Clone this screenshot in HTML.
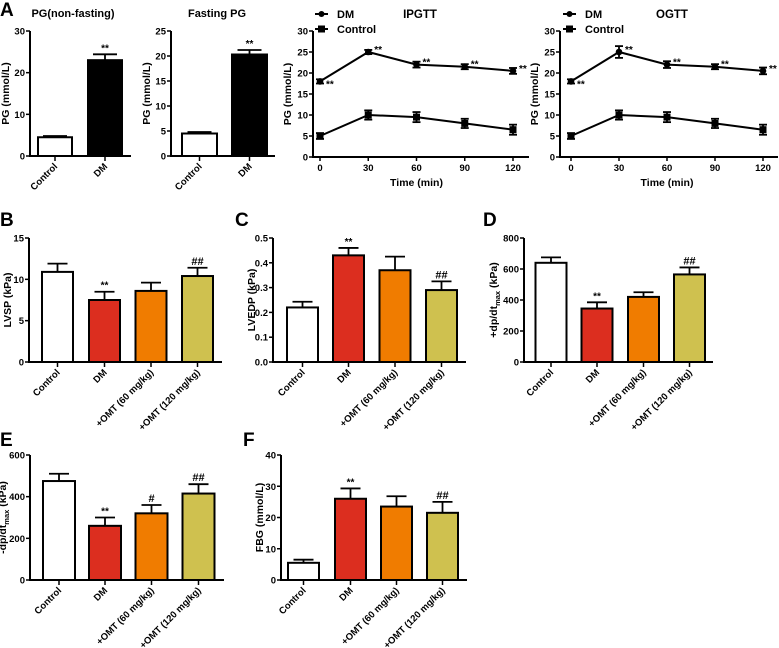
<!DOCTYPE html>
<html><head><meta charset="utf-8">
<style>
html,body{margin:0;padding:0;background:#fff;}
svg{display:block;font-family:"Liberation Sans",Arial,sans-serif;font-weight:bold;}
</style></head>
<body>
<svg id="fig" width="779" height="648" viewBox="0 0 779 648" xmlns="http://www.w3.org/2000/svg">
<g id="g"></g>
</svg>
<script>
// ---- data ----
const groups2 = ["Control","DM"];
const groups4 = ["Control","DM","+OMT (60 mg/kg)","+OMT (120 mg/kg)"];
const pgNonFast = [4.5, 23];
const pgNonFastErr = [0.3, 1.4];
const pgFast = [4.5, 20.3];
const pgFastErr = [0.3, 0.9];
const timePoints = [0, 30, 60, 90, 120];
const ipgttDM = [18, 25, 22, 21.5, 20.5];
const ipgttDMErr = [0.5, 0.5, 0.7, 0.6, 0.7];
const ipgttCtl = [5, 10, 9.5, 8, 6.5];
const ipgttCtlErr = [0.7, 1.1, 1.2, 1.1, 1.2];
const ogttDM = [18, 25, 22, 21.5, 20.5];
const ogttDMErr = [0.5, 1.4, 0.8, 0.6, 0.8];
const ogttCtl = [5, 10, 9.5, 8, 6.5];
const ogttCtlErr = [0.7, 1.1, 1.2, 1.1, 1.2];
const lvsp = [10.9, 7.5, 8.6, 10.4];
const lvspErr = [1.0, 1.0, 1.0, 1.0];
const lvedp = [0.22, 0.43, 0.37, 0.29];
const lvedpErr = [0.023, 0.03, 0.055, 0.035];
const dpPlus = [640, 345, 420, 565];
const dpPlusErr = [35, 40, 30, 45];
const dpMinus = [475, 260, 320, 415];
const dpMinusErr = [35, 40, 40, 45];
const fbg = [5.5, 26, 23.5, 21.5];
const fbgErr = [1.0, 3.3, 3.3, 3.5];
const sig4B = ["", "**", "", "##"];
const sig4E = ["", "**", "#", "##"];
const sig2 = ["", "**"];
const ticksPG30 = [0, 10, 20, 30];
const ticksPG25 = [0, 5, 10, 15, 20, 25];
const ticksGTT = [0, 5, 10, 15, 20, 25, 30];
const ticksLVSP = [0, 5, 10, 15];
const ticksLVEDP = [0, 0.1, 0.2, 0.3, 0.4, 0.5];
const ticksDP = [0, 200, 400, 600, 800];
const ticksDM = [0, 200, 400, 600];
const ticksFBG = [0, 10, 20, 30, 40];
const tickLabLVEDP = ["0.0","0.1","0.2","0.3","0.4","0.5"];
const colors4 = ["#ffffff", "#dc2e1f", "#f07c00", "#cfc14f"];
const colors2 = ["#ffffff", "#000000"];

const NS = "http://www.w3.org/2000/svg";
const root = document.getElementById("g");
function el(tag, attrs, parent, text){
  const e = document.createElementNS(NS, tag);
  for (const k in attrs) e.setAttribute(k, attrs[k]);
  if (text !== undefined) e.textContent = text;
  (parent||root).appendChild(e);
  return e;
}
function panelLabel(t, x, y){
  const e = el("text", {x:x, y:y, "font-size":19}, root, t);
  
  
}
function yAxis(p, ticks, labels){
  const ax = el("g", {}, p.g);
  
  
  el("line", {x1:p.ax, y1:p.y(ticks[0])+1, x2:p.ax, y2:p.y(ticks[ticks.length-1]), stroke:"#000","stroke-width":2}, ax);
  ticks.forEach((t,i)=>{
    const y = p.y(t);
    el("line", {x1:p.ax-4, y1:y, x2:p.ax, y2:y, stroke:"#000","stroke-width":1.5}, ax);
    const tl = el("text", {x:p.ax-5, y:y+3.5, "font-size":9.5, "text-anchor":"end"}, ax, labels ? labels[i] : String(t));
    
    
  });
}
function yTitle(p, x, cy, parts){
  const t = el("text", {transform:`translate(${x},${cy}) rotate(-90)`, "font-size":10.5, "text-anchor":"middle"}, p.g);
  
  
  parts.forEach(pt=>{
    el("tspan", pt.sub ? {"font-size":7.5, dy:3} : (pt.after ? {dy:-3} : {}), t, pt.t);
  });
}
function barPanel(o){
  const g = el("g", {}, root);
  
  
  const p = {g:g, ax:o.ax, y:v=>o.y0 + (v - 0)/(o.max)*(o.yTop - o.y0)};
  o.values.forEach((v,i)=>{
    const cx = o.centers[i], w = o.bw;
    const yv = p.y(v), ye = p.y(v + o.err[i]);
    el("line", {x1:cx, y1:yv, x2:cx, y2:ye, stroke:"#000","stroke-width":1.8}, g);
    el("line", {x1:cx-o.cap, y1:ye, x2:cx+o.cap, y2:ye, stroke:"#000","stroke-width":1.8}, g);
    const b = el("rect", {x:cx-w/2, y:yv, width:w, height:o.y0-yv, fill:o.colors[i], stroke:"#000","stroke-width":2}, g);
    
    
    if (o.sig && o.sig[i]) {
      const s = el("text", {x:cx, y:ye-3, "font-size":o.sig[i]==="**"?10:11, "text-anchor":"middle"}, g, o.sig[i]);
      
      
    }
    el("line", {x1:cx, y1:o.y0, x2:cx, y2:o.y0+5, stroke:"#000","stroke-width":1.5}, g);
    const lx = cx+3, ly = o.y0+11;
    const tl = el("text", {transform:`translate(${lx},${ly}) rotate(-45)`, "font-size":9.5, "text-anchor":"end"}, g, o.cats[i]);
    
    
  });
  const xa = el("line", {x1:o.ax, y1:o.y0, x2:o.axEnd, y2:o.y0, stroke:"#000","stroke-width":2}, g);
  
  
  yAxis(p, o.ticks, o.tickLabels);
  yTitle(p, o.titleX, (o.y0+o.yTop)/2, o.title);
  if (o.head){
    const h = el("text", {x:o.headX, y:17, "font-size":11, "text-anchor":"middle"}, g, o.head);
    
    
  }
}
function linePanel(o){
  const g = el("g", {}, root);
  
  
  const y = v=>o.y0 + v/30*(o.yTop - o.y0);
  const x = t=>o.x0 + t/120*(o.x120 - o.x0);
  const p = {g:g, ax:o.ax, y:y};
  yAxis(p, ticksGTT);
  const xa = el("line", {x1:o.ax, y1:o.y0, x2:o.axEnd, y2:o.y0, stroke:"#000","stroke-width":2}, g);
  
  
  timePoints.forEach(t=>{
    el("line", {x1:x(t), y1:o.y0, x2:x(t), y2:o.y0+4, stroke:"#000","stroke-width":1.5}, g);
    const tl = el("text", {x:x(t), y:o.y0+14, "font-size":9.5, "text-anchor":"middle"}, g, String(t));
    
    
  });
  [[o.dm,o.dmErr,"dm"],[o.ctl,o.ctlErr,"control"]].forEach(([vals,errs,nm])=>{
    const s = el("g", {}, g);
    
    
    el("polyline", {points: vals.map((v,i)=>x(timePoints[i])+","+y(v)).join(" "), fill:"none", stroke:"#000","stroke-width":2}, s);
    vals.forEach((v,i)=>{
      const cx = x(timePoints[i]), cy = y(v);
      const y1 = y(v+errs[i]), y2 = y(v-errs[i]);
      el("line", {x1:cx, y1:y1, x2:cx, y2:y2, stroke:"#000","stroke-width":1.8}, s);
      el("line", {x1:cx-4, y1:y1, x2:cx+4, y2:y1, stroke:"#000","stroke-width":1.8}, s);
      el("line", {x1:cx-4, y1:y2, x2:cx+4, y2:y2, stroke:"#000","stroke-width":1.8}, s);
      let m;
      if (nm==="dm") m = el("circle", {cx:cx, cy:cy, r:3.3, fill:"#000"}, s);
      else m = el("rect", {x:cx-3.5, y:cy-3.5, width:7, height:7, fill:"#000"}, s);
      
      
      if (nm==="dm"){
        const dy = i===0 ? 6 : 1;
        const st = el("text", {x:cx+6, y:cy+dy, "font-size":10}, s, "**");
        
        
      }
    });
  });
  const xt = el("text", {x:(o.x0+o.x120)/2, y:o.y0+29, "font-size":10.5, "text-anchor":"middle"}, g, "Time (min)");
  
  
  yTitle(p, o.ax-22, (o.y0+o.yTop)/2, [{t:"PG (mmol/L)"}]);
  const h = el("text", {x:o.headX, y:18, "font-size":11.5, "text-anchor":"middle"}, g, o.head);
  
  
  const lg = el("g", {}, g);
  
  
  const lx = o.legX;
  el("line", {x1:lx, y1:14, x2:lx+13, y2:14, stroke:"#000","stroke-width":2}, lg);
  el("circle", {cx:lx+6.5, cy:14, r:3, fill:"#000"}, lg);
  const l1 = el("text", {x:lx+22, y:18, "font-size":11}, lg, "DM");
  
  
  el("line", {x1:lx, y1:29, x2:lx+13, y2:29, stroke:"#000","stroke-width":2}, lg);
  el("rect", {x:lx+3, y:25.5, width:7, height:7, fill:"#000"}, lg);
  const l2 = el("text", {x:lx+22, y:33, "font-size":11}, lg, "Control");
  
  
}

panelLabel("A", 0, 16);
barPanel({name:"pg-nonfasting-chart", cats:groups2, values:pgNonFast, err:pgNonFastErr, colors:colors2, sig:sig2,
  centers:[55,105], bw:34, cap:12, ax:30, axEnd:131, y0:156, yTop:31, max:30, ticks:ticksPG30,
  title:[{t:"PG (mmol/L)"}], titleX:9, head:"PG(non-fasting)", headX:73});
barPanel({name:"fasting-pg-chart", cats:groups2, values:pgFast, err:pgFastErr, colors:colors2, sig:sig2,
  centers:[199.5,249.5], bw:35, cap:12, ax:171, axEnd:275, y0:156, yTop:31, max:25, ticks:ticksPG25,
  title:[{t:"PG (mmol/L)"}], titleX:150, head:"Fasting PG", headX:217});
linePanel({name:"ipgtt-chart", dm:ipgttDM, dmErr:ipgttDMErr, ctl:ipgttCtl, ctlErr:ipgttCtlErr,
  ax:313, axEnd:529, x0:320, x120:513, y0:157, yTop:31, head:"IPGTT", headX:420, legX:315});
linePanel({name:"ogtt-chart", dm:ogttDM, dmErr:ogttDMErr, ctl:ogttCtl, ctlErr:ogttCtlErr,
  ax:560, axEnd:778, x0:571, x120:763, y0:157, yTop:31, head:"OGTT", headX:672, legX:563});

panelLabel("B", 0, 226);
barPanel({name:"lvsp-chart", cats:groups4, values:lvsp, err:lvspErr, colors:colors4, sig:sig4B,
  centers:[57.5,104.5,151,197.5], bw:31, cap:10, ax:29, axEnd:222, y0:362, yTop:238, max:15, ticks:ticksLVSP,
  title:[{t:"LVSP (kPa)"}], titleX:11});
panelLabel("C", 235, 226);
barPanel({name:"lvedp-chart", cats:groups4, values:lvedp, err:lvedpErr, colors:colors4, sig:sig4B,
  centers:[302.5,348.5,395,441.5], bw:31, cap:10, ax:273, axEnd:466, y0:362, yTop:238, max:0.5, ticks:ticksLVEDP,
  tickLabels:tickLabLVEDP, title:[{t:"LVEDP (kPa)"}], titleX:255});
panelLabel("D", 483, 226);
barPanel({name:"plus-dpdt-chart", cats:groups4, values:dpPlus, err:dpPlusErr, colors:colors4, sig:sig4B,
  centers:[551,597,643.5,689.5], bw:31, cap:10, ax:524, axEnd:713, y0:362, yTop:238, max:800, ticks:ticksDP,
  title:[{t:"+dp/dt"},{t:"max",sub:true},{t:" (kPa)",after:true}], titleX:497});

panelLabel("E", 0, 446);
barPanel({name:"minus-dpdt-chart", cats:groups4, values:dpMinus, err:dpMinusErr, colors:colors4, sig:sig4E,
  centers:[59,105,151.5,198.5], bw:32, cap:10, ax:30, axEnd:224, y0:580, yTop:455, max:600, ticks:ticksDM,
  title:[{t:"-dp/dt"},{t:"max",sub:true},{t:" (kPa)",after:true}], titleX:6});
panelLabel("F", 243, 446);
barPanel({name:"fbg-chart", cats:groups4, values:fbg, err:fbgErr, colors:colors4, sig:sig4B,
  centers:[303.5,350.5,396.5,442.5], bw:31, cap:10, ax:281, axEnd:467, y0:580, yTop:455, max:40, ticks:ticksFBG,
  title:[{t:"FBG (mmol/L)"}], titleX:263});
</script>
</body></html>
